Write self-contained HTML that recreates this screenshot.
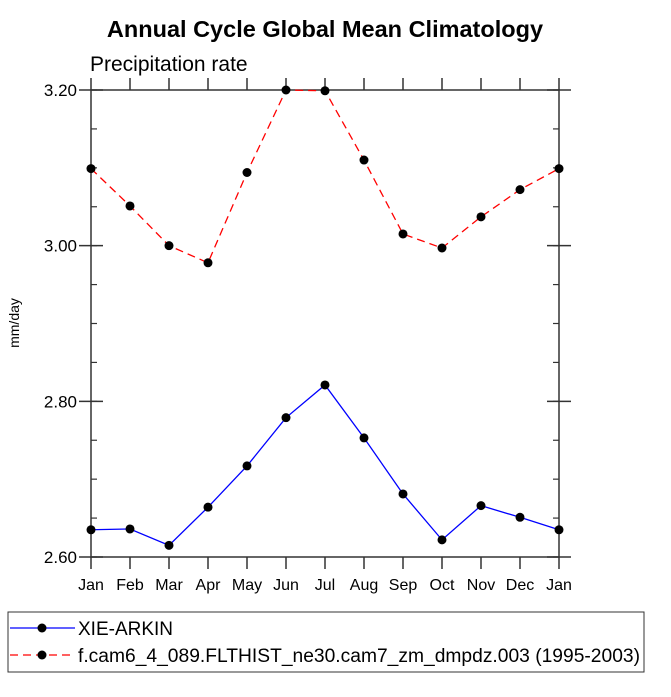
<!DOCTYPE html>
<html><head><meta charset="utf-8"><style>
body{margin:0;background:#fff;width:671px;height:692px;overflow:hidden}
svg text{font-family:"Liberation Sans",Helvetica,Arial,sans-serif}
</style></head><body>
<svg id="chart" width="671" height="692">
<text x="325" y="37" text-anchor="middle" font-size="23.5" font-weight="bold">Annual Cycle Global Mean Climatology</text>
<text x="90" y="71" font-size="21">Precipitation rate</text>
<text transform="translate(19,323) rotate(-90)" text-anchor="middle" font-size="14">mm/day</text>
<g id="axes"></g>
<g id="series"></g>
<rect x="8" y="612" width="636" height="60" fill="none" stroke="#333" stroke-width="1"/>
<g>
<line x1="10" y1="628" x2="75" y2="628" stroke="#0000ff" stroke-width="1.3"/>
<circle cx="42" cy="628" r="4.5" fill="#000"/>
<text x="78" y="635" font-size="19">XIE-ARKIN</text></g>
<g>
<line x1="10" y1="655" x2="75" y2="655" stroke="#ff0000" stroke-width="1.3" stroke-dasharray="8,5"/>
<circle cx="42" cy="655" r="4.5" fill="#000"/>
<text x="78" y="662" font-size="19" textLength="562" lengthAdjust="spacingAndGlyphs">f.cam6_4_089.FLTHIST_ne30.cam7_zm_dmpdz.003 (1995-2003)</text></g>
</svg>
<script>
const months=["Jan","Feb","Mar","Apr","May","Jun","Jul","Aug","Sep","Oct","Nov","Dec","Jan"];
const obsValues=[2.635,2.636,2.615,2.664,2.717,2.779,2.821,2.753,2.681,2.622,2.666,2.651,2.635];
const modelValues=[3.099,3.051,3.000,2.978,3.094,3.200,3.199,3.110,3.015,2.997,3.037,3.072,3.099];
const yTicks=[2.60,2.80,3.00,3.20];
const yMin=2.60,yMax=3.20;
const X0=91,X1=559,Y0=557,Y1=90;
const sx=i=>X0+(X1-X0)*i/(months.length-1);
const sy=v=>Y0-(Y0-Y1)*(v-yMin)/(yMax-yMin);
const NS="http://www.w3.org/2000/svg";
function mk(tag,attrs,parent){const e=document.createElementNS(NS,tag);for(const k in attrs)e.setAttribute(k,attrs[k]);parent.appendChild(e);return e;}
const ax=document.getElementById('axes');
const frame=mk('rect',{x:X0,y:Y1,width:X1-X0,height:Y0-Y1,fill:'none',stroke:'#333','stroke-width':1.5},ax);


months.forEach((m,i)=>{
  const x=sx(i);
  mk('line',{x1:x,y1:Y0,x2:x,y2:Y0+12,stroke:'#333','stroke-width':1.5},ax);
  mk('line',{x1:x,y1:Y1,x2:x,y2:Y1-12,stroke:'#333','stroke-width':1.5},ax);
  const t=mk('text',{x:x,y:Y0+33,'text-anchor':'middle','font-size':16},ax);
  t.textContent=m;
  
  
});
for(let v=yMin;v<=yMax+1e-9;v+=0.05){
  const y=sy(v);
  mk('line',{x1:X0,y1:y,x2:X0+6,y2:y,stroke:'#333','stroke-width':1.2},ax);
  mk('line',{x1:X1,y1:y,x2:X1-6,y2:y,stroke:'#333','stroke-width':1.2},ax);
}
yTicks.forEach(v=>{
  const y=sy(v);
  mk('line',{x1:X0-12,y1:y,x2:X0+12,y2:y,stroke:'#333','stroke-width':1.5},ax);
  mk('line',{x1:X1-12,y1:y,x2:X1+12,y2:y,stroke:'#333','stroke-width':1.5},ax);
  const t=mk('text',{x:X0-14,y:y+6,'text-anchor':'end','font-size':17},ax);
  t.textContent=v.toFixed(2);
  
  
});
const sg=document.getElementById('series');
function series(vals,color,dash,name){
  const g=mk('g',{},sg);
  
  
  const pts=vals.map((v,i)=>sx(i)+','+sy(v)).join(' ');
  const pl=mk('polyline',{points:pts,fill:'none',stroke:color,'stroke-width':1.3},g);
  if(dash)pl.setAttribute('stroke-dasharray',dash);
  vals.forEach((v,i)=>{
    const c=mk('circle',{cx:sx(i),cy:sy(v),r:4.5,fill:'#000'},g);
    
    
  });
}
series(modelValues,'#ff0000','8,5','model-series');
series(obsValues,'#0000ff',null,'xie-arkin-series');
</script>
</body></html>
